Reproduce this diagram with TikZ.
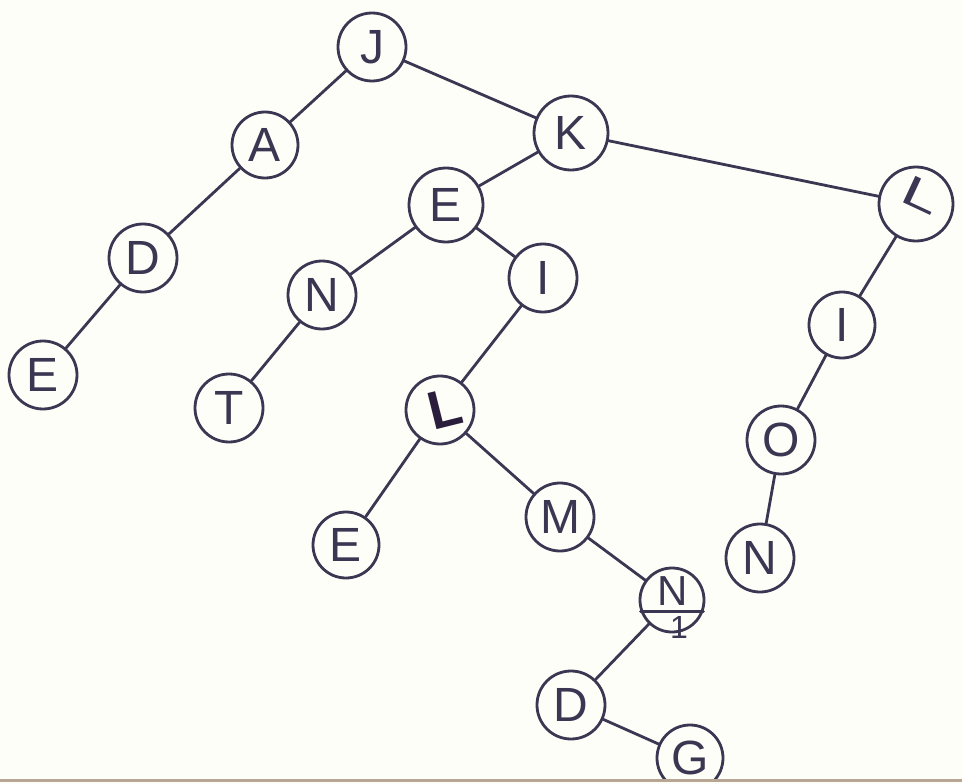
\documentclass[tikz,border=0pt]{standalone}
\usepackage{fontspec}
\setsansfont{Liberation Sans}
\definecolor{ink}{HTML}{3B3651}
\definecolor{inkdark}{HTML}{2A1E3C}
\definecolor{paper}{HTML}{FDFEF8}
\begin{document}
\begin{tikzpicture}[x=1pt,y=-1pt,
  nd/.style={circle,draw=ink,line width=2.8pt,inner sep=0pt,minimum size=68pt,
     text=ink,font=\sffamily\fontsize{48}{48}\selectfont},
  lbl/.style={text=ink,inner sep=0pt},
  ed/.style={draw=ink,line width=2.8pt,line cap=round}]
\useasboundingbox (0,0) rectangle (962,784);
\fill[paper] (0,0) rectangle (962,784);
\begin{scope}
\clip (0,0) rectangle (962,778);
\node[nd] (J) at (372,47) {J};
\node[nd,minimum size=66pt] (A) at (265,145) {A};
\node[nd,minimum size=74pt] (K) at (571,133) {K};
\node[nd] (D1) at (143,258) {D};
\node[nd] (E1) at (43,375) {E};
\node[nd,minimum size=74pt] (E2) at (446,205) {E};
\node[nd,minimum size=74pt] (L1) at (916,204) {};
\node[lbl,font=\sffamily\fontsize{50}{50}\selectfont] (L1t) at (922,195) {\rotatebox{-25}{\scalebox{1.35}[0.85]{L}}};
\node[nd] (N1) at (322,295) {N};
\node[nd] (I1) at (543,278) {I};
\node[nd] (T) at (229,408) {T};
\node[nd] (L2) at (440,410) {};
\node[lbl,text=inkdark,rotate=14,font=\sffamily\bfseries\fontsize{54}{54}\selectfont] (L2t) at (445,408) {L};
\node[nd,minimum size=66pt] (I2) at (842,325) {I};
\node[nd] (O) at (781,440) {O};
\node[nd] (N2) at (760,558) {N};
\node[nd,minimum size=66pt] (E3) at (346,545) {E};
\node[nd] (M) at (560,517) {M};
\node[nd,minimum size=64pt] (N3) at (672,600) {};
\node[lbl,font=\sffamily\fontsize{42}{42}\selectfont] (N3t) at (673,591) {N};
\node[lbl,font=\sffamily\fontsize{32}{32}\selectfont] (N3s) at (679,627) {1};
\draw[ed] (N3.200) -- (N3.-20);
\node[nd] (D2) at (571,705) {D};
\node[nd,minimum size=66pt] (G) at (690,758) {G};
\draw[ed] (J) -- (A);
\draw[ed] (J) -- (K);
\draw[ed] (A) -- (D1);
\draw[ed] (D1) -- (E1);
\draw[ed] (K) -- (E2);
\draw[ed] (K) -- (L1);
\draw[ed] (E2) -- (N1);
\draw[ed] (E2) -- (I1);
\draw[ed] (N1) -- (T);
\draw[ed] (I1) -- (L2);
\draw[ed] (L2) -- (E3);
\draw[ed] (L2) -- (M);
\draw[ed] (M) -- (N3);
\draw[ed] (N3) -- (D2);
\draw[ed] (D2) -- (G);
\draw[ed] (L1) -- (I2);
\draw[ed] (I2) -- (O);
\draw[ed] (O) -- (N2);
\end{scope}
\draw[gray!60!brown!70,line width=3pt] (0,780) -- (962,780);
\end{tikzpicture}
\end{document}
